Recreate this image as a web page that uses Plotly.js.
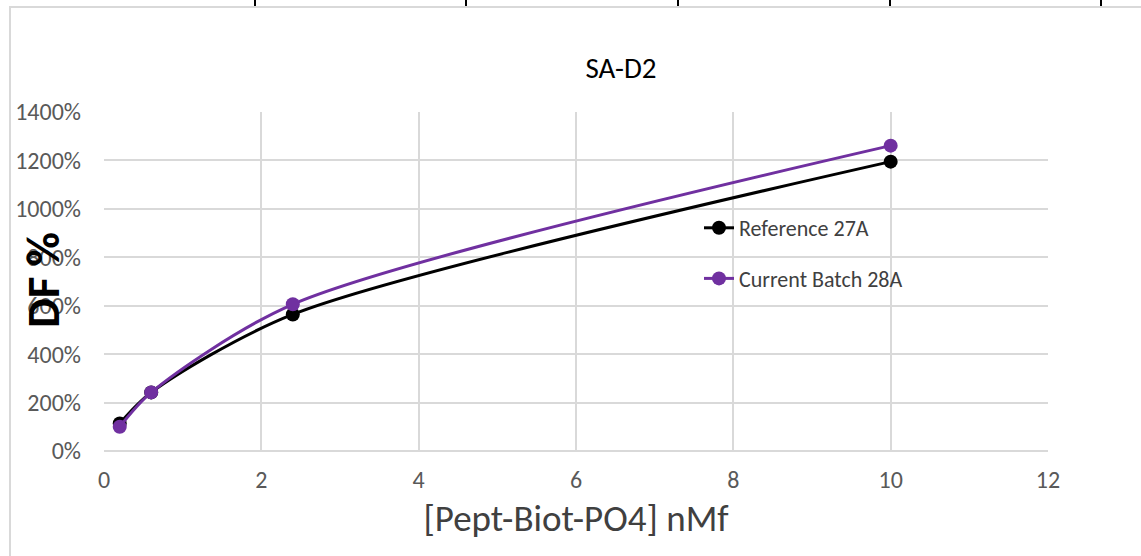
<!DOCTYPE html>
<html>
<head>
<meta charset="utf-8">
<script src="https://cdn.plot.ly/plotly-3.0.1.min.js"></script>
<style>
  html, body { margin: 0; padding: 0; background: #fff; }
  #wrap { position: relative; width: 1141px; height: 556px; overflow: hidden; }
  #chart { position: absolute; left: 0; top: 0; width: 1141px; height: 556px; }
  .frame { position: absolute; left: 9px; top: 6px; right: -10px; bottom: -10px;
           border-left: 2px solid #d9d9d9; border-top: 2px solid #d9d9d9; pointer-events: none; }
  .cell { position: absolute; top: 0; width: 2px; height: 6px; background: #000; }
</style>
</head>
<body>
<div id="wrap">
  <div id="chart"></div>
  <div class="frame"></div>
  <div class="cell" style="left:254px"></div>
  <div class="cell" style="left:465px"></div>
  <div class="cell" style="left:677px"></div>
  <div class="cell" style="left:889px"></div>
  <div class="cell" style="left:1100px"></div>
</div>
<script>
// Data
const concentration = [0.2, 0.6, 2.4, 10];
const reference27A = [1.14, 2.42, 5.64, 11.95];
const currentBatch28A = [1.00, 2.42, 6.06, 12.61];
const seriesNames = ["Reference 27A", "Current Batch 28A"];
const chartTitle = "SA-D2";
const xTitle = "[Pept-Biot-PO4] nMf";
const yTitle = "DF %";

const FONT = "Carlito, Lato, 'Open Sans', sans-serif";

const traces = [
  {
    x: concentration, y: reference27A, name: seriesNames[0],
    type: "scatter", mode: "lines+markers", legendgroup: "a",
    line: { color: "#000000", width: 3, shape: "spline", smoothing: 0.8 },
    marker: { color: "#000000", size: 14 }
  },
  {
    x: concentration, y: currentBatch28A, name: seriesNames[1],
    type: "scatter", mode: "lines+markers", legendgroup: "b",
    line: { color: "#7030A0", width: 3, shape: "spline", smoothing: 0.8 },
    marker: { color: "#7030A0", size: 14 }
  }
];

const layout = {
  width: 1141, height: 556,
  margin: { l: 104, r: 93, t: 112, b: 105, pad: 0 },
  paper_bgcolor: "rgba(0,0,0,0)", plot_bgcolor: "#ffffff",
  font: { family: FONT, color: "#595959" },
  title: {
    text: chartTitle, font: { family: FONT, size: 29, color: "#000000" },
    xref: "container", yref: "container", x: 621 / 1141, xanchor: "center",
    y: 1 - 68 / 556, yanchor: "middle"
  },
  xaxis: {
    range: [0, 12], dtick: 2, tick0: 0,
    showgrid: true, gridcolor: "#d9d9d9", gridwidth: 2,
    zeroline: false, showline: false,
    ticks: "", ticklabelstandoff: 12,
    tickfont: { family: FONT, size: 24, color: "#595959" },
    title: { text: xTitle, standoff: 12, font: { family: FONT, size: 37, color: "#404040" } },
    fixedrange: true
  },
  yaxis: {
    range: [0, 14], dtick: 2, tick0: 0,
    tickformat: ".0%",
    showgrid: true, gridcolor: "#d9d9d9", gridwidth: 2,
    zeroline: true, zerolinecolor: "#d9d9d9", zerolinewidth: 2,
    showline: false, ticks: "", ticklabelstandoff: 22,
    tickfont: { family: FONT, size: 24, color: "#595959" },
    fixedrange: true
  },
  annotations: [
    {
      text: "<b>" + yTitle + "</b>", textangle: -90,
      xref: "paper", yref: "paper",
      x: (43 - 104) / 944, y: (451 - 280) / 339,
      xanchor: "center", yanchor: "middle", showarrow: false,
      font: { family: FONT, size: 47, color: "#000000" }
    }
  ],
  showlegend: true,
  legend: {
    x: (699 - 104) / 944, y: (451 - 207) / 339, xanchor: "left", yanchor: "top",
    bgcolor: "rgba(0,0,0,0)", borderwidth: 0,
    traceorder: "grouped", tracegroupgap: 19,
    font: { family: FONT, size: 22, color: "#404040" }
  }
};

Plotly.newPlot("chart", traces, layout, { displayModeBar: false, staticPlot: true });
</script>
</body>
</html>
